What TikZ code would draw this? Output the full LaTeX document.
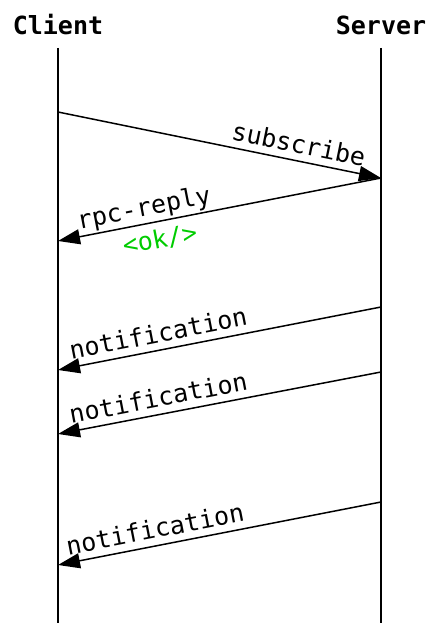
\documentclass[tikz,border=0pt]{standalone}
\usepackage{fontspec}
\setmonofont{DejaVu Sans Mono}
\usetikzlibrary{arrows.meta}
\definecolor{okgreen}{RGB}{0,204,0}
\begin{document}
\begin{tikzpicture}[x=1pt,y=-1pt,
  every node/.style={font=\ttfamily\fontsize{25}{30}\selectfont},
  title/.style={font=\ttfamily\bfseries\fontsize{25}{30}\selectfont, anchor=base, inner sep=0pt},
  lifeline/.style={line width=1.5pt},
  msg/.style={line width=1.5pt, -{Triangle[length=22pt,width=15pt]}},
  lbl/.style={sloped, inner sep=0pt, text height=0.76em, text depth=0.24em},
  lblabove/.style={lbl, above=4.5pt},
  lblbelow/.style={lbl, below=18pt, text=okgreen}]
\useasboundingbox (0,0) rectangle (427,623);
\node[title] (client) at (58,35) {Client};
\node[title] (server) at (381,35) {Server};
\coordinate (ctop) at (58,48);  \coordinate (cbot) at (58,623);
\coordinate (stop) at (381,48); \coordinate (sbot) at (381,623);
\draw[lifeline] (ctop) -- (cbot);
\draw[lifeline] (stop) -- (sbot);
% message end points
\coordinate (c1) at (58,112);  \coordinate (s1) at (381,178);
\coordinate (c2) at (58,241);
\coordinate (s3) at (381,307); \coordinate (c3) at (58,370);
\coordinate (s4) at (381,372); \coordinate (c4) at (58,434);
\coordinate (s5) at (381,502); \coordinate (c5) at (58,565);
\draw[msg] (c1) -- node[lblabove, pos=0.735] (lsub) {subscribe} (s1);
\draw[msg] (s1) -- node[lblabove, pos=0.725] (lrpc) {rpc-reply}
                   node[lblbelow, pos=0.695] (lok) {<ok/>} (c2);
\draw[msg] (s3) -- node[lblabove, pos=0.68] (ln1) {notification} (c3);
\draw[msg] (s4) -- node[lblabove, pos=0.68] (ln2) {notification} (c4);
\draw[msg] (s5) -- node[lblabove, pos=0.69] (ln3) {notification} (c5);
\end{tikzpicture}
\end{document}
